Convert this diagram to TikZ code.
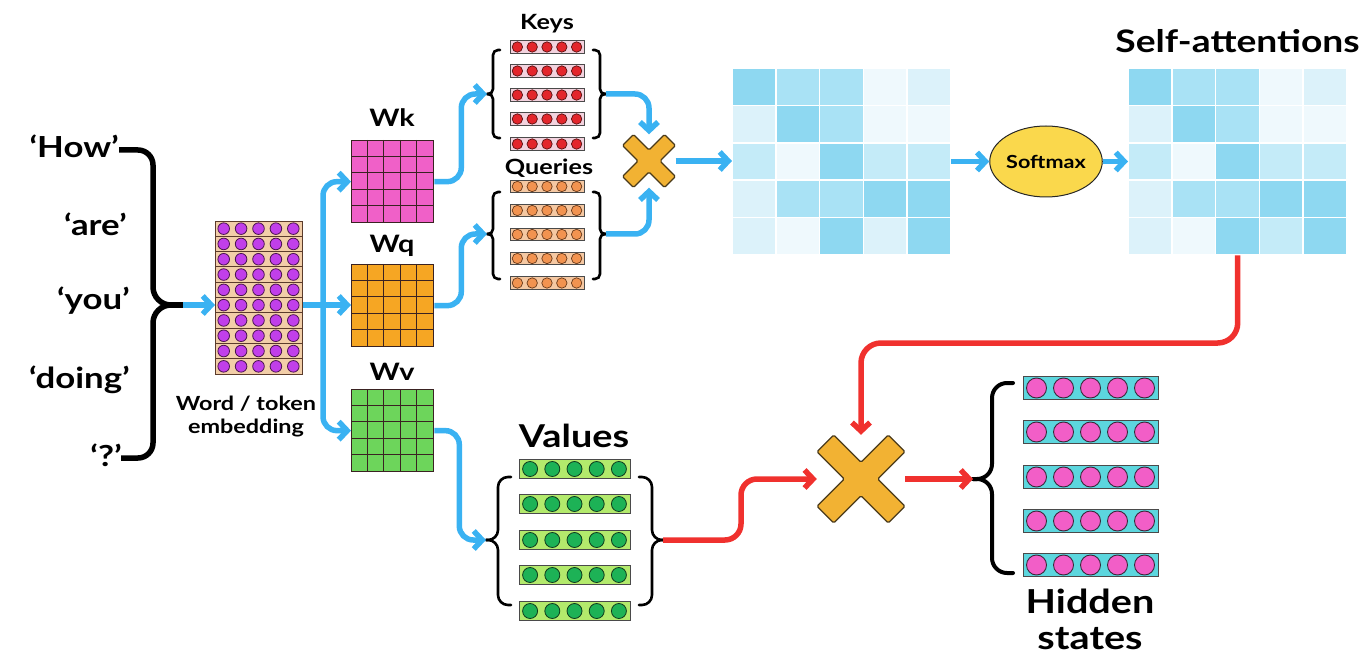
\documentclass[tikz,border=0pt]{standalone}
\usepackage{fontspec}
\setmainfont{Lato}[FakeStretch=1.2]
\usetikzlibrary{arrows.meta,calc,shapes.geometric}
\definecolor{cblue}{HTML}{3AB2F2}
\definecolor{cred}{HTML}{F0312E}
\definecolor{wkpink}{HTML}{F060C8}
\definecolor{wqorange}{HTML}{F6A623}
\definecolor{wvgreen}{HTML}{6DD55B}
\definecolor{gridc}{HTML}{3A2222}
\definecolor{embfill}{HTML}{F2CEA8}
\definecolor{embedge}{HTML}{5B3B2B}
\definecolor{embcirc}{HTML}{C13FEA}
\definecolor{embcircedge}{HTML}{4A1450}
\definecolor{keyrow}{HTML}{F3D2DE}
\definecolor{keycirc}{HTML}{E3262C}
\definecolor{keycircedge}{HTML}{5A1010}
\definecolor{qrow}{HTML}{F5C8A2}
\definecolor{qcirc}{HTML}{F29350}
\definecolor{qcircedge}{HTML}{6A3A1A}
\definecolor{vrowc}{HTML}{B3EA6C}
\definecolor{vcirc}{HTML}{1DB256}
\definecolor{vcircedge}{HTML}{0E3A1C}
\definecolor{hrowc}{HTML}{5CD6DE}
\definecolor{hcirc}{HTML}{F25EC7}
\definecolor{hcircedge}{HTML}{3A2A3A}
\definecolor{rowedge}{HTML}{4A4A4A}
\definecolor{xorange}{HTML}{F2B233}
\definecolor{xedge}{HTML}{4A3A1A}
\definecolor{softy}{HTML}{FAD84C}
\definecolor{sh1}{HTML}{8ED8F1}
\definecolor{sh2}{HTML}{A9E2F5}
\definecolor{sh3}{HTML}{C4EBF8}
\definecolor{sh4}{HTML}{DCF2FA}
\definecolor{sh5}{HTML}{EFF9FD}

\tikzset{
  fsz/.style={font=\bfseries\fontsize{#1}{#1}\selectfont},
  lbl/.style={inner sep=0, anchor=base},
  blueflow/.style={draw=cblue, line width=5.5pt, rounded corners=14pt,
    -{Straight Barb[length=8.5pt,width=18pt]}},
  redflow/.style={draw=cred, line width=5.5pt, rounded corners=16pt,
    -{Straight Barb[length=8.5pt,width=18pt]}},
  brc/.style={draw=black, line width=2.6pt, line cap=round},
  rowbox/.style={draw=rowedge, line width=0.9pt, inner sep=0},
  matbox/.style={draw=gridc, line width=1.3pt, inner sep=0},
  pics/xmark/.style 2 args={code={
    \begin{scope}[rotate=45]
      \filldraw[fill=xorange, draw=xedge, line width=1.2pt, rounded corners=1.5pt]
        (#2,#1) -- (#2,#2) -- (#1,#2) -- (#1,-#2) -- (#2,-#2) -- (#2,-#1) --
        (-#2,-#1) -- (-#2,-#2) -- (-#1,-#2) -- (-#1,#2) -- (-#2,#2) -- (-#2,#1) -- cycle;
    \end{scope}}}
}

% vector row: name, xleft, ycenter, width, height, circle radius, row style, circle style
\newcommand\vecrow[8]{%
  \node[rowbox,#7,minimum width=#4pt,minimum height=#5pt,anchor=west] (#1) at (#2,#3) {};
  \foreach \i in {0,...,4}{\filldraw[#8] ($(#1.west)+({(\i+0.5)*#4/5},0)$) circle[radius=#6pt];}
}
% weight matrix: name, xleft, ytop, fill
\newcommand\wmat[4]{%
  \node[matbox, fill=#4, minimum size=82pt, anchor=north west] (#1) at (#2,#3) {};
  \foreach \k in {1,...,4}{
    \draw[gridc, line width=1.3pt] ($(#1.north west)+(\k*16.4,0)$) -- ++(0,82);
    \draw[gridc, line width=1.3pt] ($(#1.north west)+(0,\k*16.4)$) -- ++(82,0);}
}
% attention matrix: name, xleft, ytop, list of 25 shades
\newcommand\attmat[4]{%
  \node[inner sep=0, minimum width=219pt, minimum height=187pt, anchor=north west] (#1) at (#2,#3) {};
  \foreach \v [count=\n from 0] in {#4}{
    \pgfmathtruncatemacro\rr{int(\n/5)}
    \pgfmathtruncatemacro\cc{mod(\n,5)}
    \fill[sh\v] ($(#1.north west)+(\cc*43.8+0.8,\rr*37.4+0.8)$) rectangle ++(42.2,35.8);}
}
% brace: xv, ytop, ybottom, ymid, end x, tip x, radius
\newcommand\lbr[7]{%
  \draw[brc, rounded corners=#7pt] (#5,#2) -- (#1,#2) -- (#1,#4) -- (#6,#4);
  \draw[brc, rounded corners=#7pt] (#5,#3) -- (#1,#3) -- (#1,#4) -- (#6,#4);
}

\begin{document}
\begin{tikzpicture}[x=1pt,y=-1pt]
\useasboundingbox (0,0) rectangle (1365,660);

% ---- input words and brace
\node[lbl, fsz=29, anchor=base east] (wHow) at (119,158) {‘How’};
\node[lbl, fsz=29, anchor=base east] (wAre) at (127,236) {‘are’};
\node[lbl, fsz=29, anchor=base east] (wYou) at (130,309) {‘you’};
\node[lbl, fsz=29, anchor=base east] (wDoing) at (130,388) {‘doing’};
\node[lbl, fsz=29, anchor=base east] (wQ) at (122,466) {‘?’};
\draw[black, line width=5.5pt] (119,150) [rounded corners=15pt] -- (153,150) [rounded corners=18pt] -- (153,305) -- (183,305);
\draw[black, line width=5.5pt] (121,458) [rounded corners=15pt] -- (153,458) [rounded corners=18pt] -- (153,305) -- (183,305);
\coordinate (wtip) at (183,305);

% ---- embedding
\node[draw=embedge, fill=embfill, line width=1pt, minimum width=87pt, minimum height=153pt,
      anchor=north west, inner sep=0] (emb) at (215,221) {};
\foreach \k in {1,...,9}{\draw[embedge, line width=1pt] ($(emb.north west)+(0,\k*15.3)$) -- ++(87,0);}
\foreach \j in {0,...,9}{\foreach \i in {0,...,4}{
  \filldraw[fill=embcirc, draw=embcircedge, line width=0.8pt] ($(emb.north west)+(8.7+17.4*\i,7.65+15.3*\j)$) circle[radius=5.8pt];}}
\node[lbl, fsz=19.5] (lemb1) at (246,410) {Word / token};
\node[lbl, fsz=19.5] (lemb2) at (246,433) {embedding};

% ---- weight matrices
\wmat{wk}{351}{140}{wkpink}
\wmat{wq}{351}{264}{wqorange}
\wmat{wv}{351}{389}{wvgreen}
\node[lbl, fsz=24] (lwk) at (392,127) {Wk};
\node[lbl, fsz=24] (lwq) at (392,253) {Wq};
\node[lbl, fsz=24] (lwv) at (392,380) {Wv};

% ---- keys / queries
\node[lbl, fsz=21] (lkeys) at (547,30) {Keys};
\node[lbl, fsz=21] (lqueries) at (549,175) {Queries};
\foreach \n/\yy in {1/47,2/71,3/95,4/119,5/144}{
  \vecrow{k\n}{510}{\yy}{74}{12.5}{5.2}{fill=keyrow}{fill=keycirc, draw=keycircedge, line width=0.7pt}}
\foreach \n/\yy in {1/186.5,2/210.5,3/234.5,4/258.5,5/283}{
  \vecrow{q\n}{510}{\yy}{74}{12.5}{5.2}{fill=qrow}{fill=qcirc, draw=qcircedge, line width=0.7pt}}
\lbr{493}{50}{138}{94}{500}{487}{5}
\lbr{600}{50}{138}{94}{593}{606}{5}
\lbr{493}{192}{279}{234}{500}{487}{5}
\lbr{600}{192}{279}{234}{593}{606}{5}
\coordinate (kl) at (487,94);
\coordinate (kr) at (606,94);
\coordinate (ql) at (487,234);
\coordinate (qr) at (606,234);

% ---- small multiply
\node[inner sep=0, minimum size=53pt] (m1) at (649,161) {};
\pic at (m1) {xmark={29.7}{7.8}};

% ---- attention matrices
\attmat{att1}{732}{68}{1,2,2,5,4, 4,1,2,5,5, 3,5,1,3,3, 4,2,2,1,1, 4,5,1,4,1}
\attmat{att2}{1128}{68}{1,2,2,5,4, 4,1,2,5,5, 3,5,1,3,3, 4,2,2,1,1, 4,5,1,3,1}
\node[ellipse, draw=black!85, line width=1pt, fill=softy, minimum width=105pt, minimum height=71pt,
      inner sep=0, fsz=18] (sm) at (1046,161.5) {Softmax};
\node[lbl, fsz=31] (lself) at (1237.5,53) {Self-attentions};

% ---- values
\node[lbl, fsz=31.5] (lvalues) at (574,447) {Values};
\foreach \n/\yy in {1/469,2/504,3/540,4/575,5/611}{
  \vecrow{v\n}{519}{\yy}{111}{19}{7.5}{fill=vrowc}{fill=vcirc, draw=vcircedge, line width=0.8pt}}
\lbr{498}{477}{605}{540}{511}{486}{10}
\lbr{652}{477}{605}{540}{639}{663}{10}
\coordinate (vl) at (486,540);
\coordinate (vr) at (663,540);

% ---- big multiply
\node[inner sep=0, minimum size=88pt] (m2) at (861,479) {};
\pic at (m2) {xmark={50.4}{11.8}};

% ---- hidden states
\foreach \n/\yy in {1/388,2/432,3/477,4/521,5/565}{
  \vecrow{h\n}{1023}{\yy}{135}{22.5}{10}{fill=hrowc}{fill=hcirc, draw=hcircedge, line width=0.9pt}}
\begin{scope}[brc/.append style={line width=4pt}]
\lbr{992}{383}{573}{479}{1013}{973}{15}
\end{scope}
\coordinate (htip) at (973,479);
\node[lbl, fsz=33] (lhidden) at (1090,613) {Hidden};
\node[lbl, fsz=33] (lstates) at (1090,649) {states};

% ---- blue connectors
\coordinate (junc) at (323,305);
\draw[blueflow] (wtip) -- (wtip -| emb.west);
\draw[blueflow] (emb.east |- junc) -- (junc -| wq.west);
\draw[blueflow] (junc) |- (wk.west);
\draw[blueflow] (junc) |- (wv.west);
\draw[blueflow] (wk.east) -- ++(27,0) |- (kl);
\draw[blueflow] (wq.east) -- ++(27,0) |- (ql);
\draw[blueflow] (wv.east) -- ++(25,0) |- (vl);
\draw[blueflow] (kr) -| (m1.north);
\draw[blueflow] (qr) -| (m1.south);
\draw[blueflow] (m1.east) -- (m1.east -| att1.west);
\draw[blueflow] (att1.east |- sm.west) -- (sm.west);
\draw[blueflow] (sm.east) -- (sm.east -| att2.west);

% ---- red connectors
\coordinate (rc) at (861,343);
\draw[redflow, rounded corners=20pt] (att2.south) |- (rc) -- (m2.north);
\draw[redflow] (vr) -- ++(78,0) |- (m2.west);
\draw[redflow] (m2.east) -- (htip);
\end{tikzpicture}
\end{document}
